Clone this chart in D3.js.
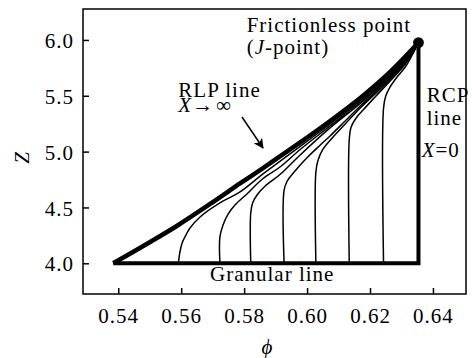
<!DOCTYPE html>
<html>
<head>
<meta charset="utf-8">
<script src="https://cdn.jsdelivr.net/npm/d3@7"></script>
<style>
  body { margin: 0; background: #fff; }
  svg text { font-family: "Liberation Serif", "Times New Roman", serif; fill: #000; }
</style>
</head>
<body>
<div id="chart"></div>
<script>
// axis ticks
const xTicks = [0.54, 0.56, 0.58, 0.60, 0.62, 0.64];
const yTicks = [4.0, 4.5, 5.0, 5.5, 6.0];

// J-point
const jPoint = [0.6354, 5.976];

// boundary lines [phi, Z]
const rlpLine = [[0.5384, 4.0], [0.5485, 4.164], [0.5586, 4.334], [0.5692, 4.531], [0.5787, 4.715],
  [0.5860, 4.853], [0.5978, 5.082], [0.6073, 5.274], [0.6169, 5.480], [0.6264, 5.713], [0.6354, 5.976]];
const granularLine = [[0.5384, 4.0], [0.6354, 4.0]];
const rcpLine = [[0.6354, 4.0], [0.6354, 5.976]];

// intermediate curves (finite X)
const curve1 = [[0.5591, 4.0], [0.5596, 4.101], [0.5603, 4.182], [0.5615, 4.253], [0.5628, 4.316], [0.5660, 4.415],
  [0.5723, 4.540], [0.5787, 4.639], [0.5860, 4.800], [0.5978, 5.046], [0.6073, 5.247], [0.6169, 5.458],
  [0.6264, 5.695], [0.6312, 5.830], [0.6354, 5.976]];
const curve2 = [[0.5723, 4.0], [0.5723, 4.236], [0.5733, 4.343], [0.5749, 4.441], [0.5771, 4.522], [0.5809, 4.621],
  [0.5860, 4.759], [0.5914, 4.862], [0.5978, 5.019], [0.6073, 5.230], [0.6169, 5.444], [0.6264, 5.682],
  [0.6312, 5.821], [0.6354, 5.976]];
const curve3 = [[0.5821, 4.0], [0.5821, 4.450], [0.5827, 4.540], [0.5841, 4.612], [0.5867, 4.692], [0.5914, 4.795],
  [0.5978, 4.970], [0.6073, 5.212], [0.6169, 5.431], [0.6264, 5.673], [0.6312, 5.812], [0.6354, 5.976]];
const curve4 = [[0.5927, 4.0], [0.5927, 4.656], [0.5937, 4.737], [0.5959, 4.818], [0.5999, 4.943], [0.6042, 5.059],
  [0.6073, 5.140], [0.6121, 5.274], [0.6169, 5.409], [0.6264, 5.659], [0.6312, 5.803], [0.6354, 5.976]];
const curve5 = [[0.6028, 4.0], [0.6028, 4.818], [0.6035, 4.925], [0.6051, 5.024], [0.6077, 5.113], [0.6121, 5.247],
  [0.6169, 5.391], [0.6264, 5.646], [0.6312, 5.794], [0.6354, 5.976]];
const curve6 = [[0.6134, 4.0], [0.6134, 5.104], [0.6140, 5.221], [0.6156, 5.301], [0.6181, 5.382], [0.6216, 5.489],
  [0.6264, 5.633], [0.6312, 5.785], [0.6354, 5.976]];
const curve7 = [[0.6243, 4.0], [0.6243, 5.391], [0.6250, 5.498], [0.6264, 5.579], [0.6286, 5.668], [0.6312, 5.758],
  [0.6334, 5.865], [0.6354, 5.976]];

const curves = [curve1, curve2, curve3, curve4, curve5, curve6, curve7];

const W = 472, H = 358;
const margin = { top: 9, right: 6, bottom: 64, left: 83 };
const width = W - margin.left - margin.right;
const height = H - margin.top - margin.bottom;

const svg = d3.select("#chart").append("svg")
  .attr("width", W)
  .attr("height", H);

const g = svg.append("g")
  .attr("transform", `translate(${margin.left},${margin.top})`);

const x = d3.scaleLinear().domain([0.5288, 0.6505]).range([0, width]);
const y = d3.scaleLinear().domain([3.725, 6.277]).range([height, 0]);

// frame
g.append("rect")
  .attr("width", width).attr("height", height)
  .attr("fill", "none").attr("stroke", "#000").attr("stroke-width", 1.5);

// axes, ticks inward
const xAxis = g.append("g")
  .attr("transform", `translate(0,${height})`)
  .call(d3.axisBottom(x).tickValues(xTicks).tickSizeInner(-6).tickSizeOuter(0).tickPadding(14).tickFormat(d3.format(".2f")));
const yAxis = g.append("g")
  .call(d3.axisLeft(y).tickValues(yTicks).tickSizeInner(-6).tickSizeOuter(0).tickPadding(9).tickFormat(d3.format(".1f")));

[xAxis, yAxis].forEach(a => {
  a.select(".domain").remove();
  a.selectAll(".tick line").attr("stroke", "#000").attr("stroke-width", 1.5);
  a.selectAll(".tick text")
    .style("font-family", "'Liberation Serif', 'Times New Roman', serif")
    .style("font-size", "21px")
    .style("letter-spacing", "1px")
    .attr("fill", "#000");
});
yAxis.selectAll(".tick text").attr("dy", "0.36em");

const line = d3.line()
  .x(d => x(d[0]))
  .y(d => y(d[1]))
  .curve(d3.curveCatmullRom.alpha(0.5));

// thin curves
g.selectAll(".flow")
  .data(curves)
  .enter()
  .append("path")
  .attr("class", "flow")
  .attr("d", line)
  .attr("fill", "none")
  .attr("stroke", "#000")
  .attr("stroke-width", 1.5);

// RLP line
g.append("path")
  .attr("d", line(rlpLine))
  .attr("fill", "none")
  .attr("stroke", "#000")
  .attr("stroke-width", 4.5);

// granular + RCP lines
g.append("path")
  .attr("d", d3.line().x(d => x(d[0])).y(d => y(d[1]))(granularLine.concat(rcpLine.slice(1))))
  .attr("fill", "none")
  .attr("stroke", "#000")
  .attr("stroke-width", 4)
  .attr("stroke-linejoin", "miter");

// J-point
g.append("circle")
  .attr("cx", x(jPoint[0]))
  .attr("cy", y(jPoint[1]))
  .attr("r", 5.4)
  .attr("fill", "#000");

// arrow
svg.append("defs").append("marker")
  .attr("id", "ah")
  .attr("viewBox", "0 0 10 10")
  .attr("refX", 9).attr("refY", 5)
  .attr("markerWidth", 10).attr("markerHeight", 10)
  .attr("markerUnits", "userSpaceOnUse")
  .attr("orient", "auto")
  .append("path")
  .attr("d", "M0,0 L10,5 L0,10 L2.5,5 Z")
  .attr("fill", "#000");

svg.append("line")
  .attr("x1", 242).attr("y1", 117)
  .attr("x2", 263).attr("y2", 148)
  .attr("stroke", "#000").attr("stroke-width", 1.5)
  .attr("marker-end", "url(#ah)");

// annotations
function label(px, py, parts) {
  const t = svg.append("text")
    .attr("x", px).attr("y", py)
    .style("font-size", "21px")
    .style("letter-spacing", "1px");
  parts.forEach(p => {
    const s = t.append("tspan").text(p[0]).style("font-style", p[1] ? "italic" : "normal");
    if (p[2] != null) s.attr("x", p[2]);
  });
  return t;
}

label(246.7, 32, [["Frictionless point", false]]);
label(246.7, 54, [["(", false], ["J", true], ["-point)", false]]);
label(178.3, 96.5, [["RLP line", false]]);
label(178.3, 112, [["X", true], ["\u2192", false], ["\u221e", false, 216]]);
label(426.7, 101.5, [["RCP", false]]);
label(426.7, 125, [["line", false]]);
label(421.7, 157, [["X", true], ["=0", false]]);
label(210, 281, [["Granular line", false]]);

// axis titles
svg.append("text")
  .attr("transform", "translate(29,158) rotate(-90)")
  .attr("text-anchor", "middle")
  .style("font-size", "21px")
  .style("font-style", "italic")
  .text("Z");

svg.append("text")
  .attr("x", 267).attr("y", 354)
  .attr("text-anchor", "middle")
  .style("font-size", "21px")
  .style("font-style", "italic")
  .text("\u03d5");
</script>
</body>
</html>
